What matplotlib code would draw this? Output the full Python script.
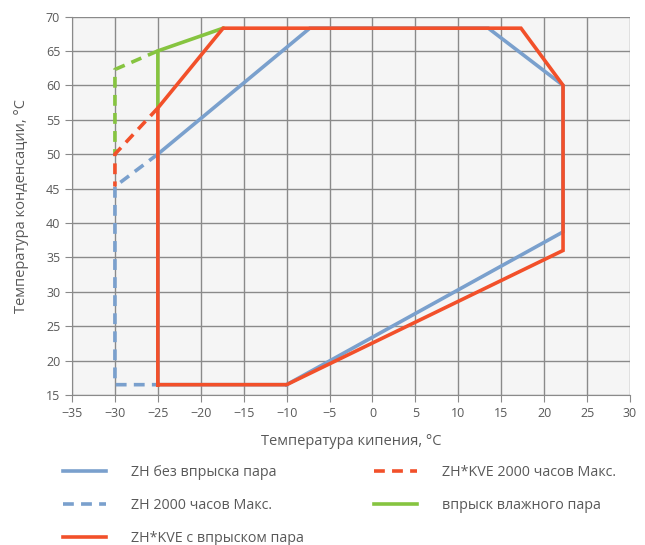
import matplotlib
matplotlib.use("Agg")
import matplotlib.pyplot as plt
from matplotlib.lines import Line2D

# контуры (температура кипения, температура конденсации)
zh_x = [-10, 22.2, 22.2, 13.5, -7.3, -25, -25, -10]
zh_y = [16.5, 38.7, 60, 68.3, 68.3, 50, 16.5, 16.5]
zh2000_x = [-25, -30, -30, -25]
zh2000_y = [50, 45.3, 16.5, 16.5]
kve_x = [-25, -10, 22.2, 22.2, 17.3, -17.4, -25, -25]
kve_y = [16.5, 16.5, 36, 60, 68.3, 68.3, 56.7, 16.5]
kve2000_x = [-25, -30, -30]
kve2000_y = [56.7, 50, 45.3]
wet_x = [-25, -25, -17.4]
wet_y = [56.7, 65, 68.3]
wet2000_x = [-25, -30, -30]
wet2000_y = [65, 62.3, 50]

labels = ["ZH без впрыска пара", "ZH 2000 часов Макс.", "ZH*KVE с впрыском пара",
          "ZH*KVE 2000 часов Макс.", "впрыск влажного пара"]

plt.rcParams['font.family'] = ['Open Sans', 'DejaVu Sans']
blue = '#7aa0cd'
red = '#f2502a'
green = '#86c440'
txt = '#595959'
lw = 2.6
dash = (3, 2)

fig = plt.figure(figsize=(6.45, 5.45), dpi=100)
ax = fig.add_axes([72/645, 1-395/545, 558/645, 378.5/545])
ax.set_facecolor('#f5f5f5')

ax.plot(zh_x, zh_y, color=blue, lw=lw, solid_joinstyle='miter')
ax.plot(zh2000_x, zh2000_y, color=blue, lw=lw, dashes=dash)
ax.plot(wet_x, wet_y, color=green, lw=lw)
ax.plot(wet2000_x, wet2000_y, color=green, lw=lw, dashes=dash)
ax.plot(kve_x, kve_y, color=red, lw=lw, solid_joinstyle='miter')
ax.plot(kve2000_x, kve2000_y, color=red, lw=lw, dashes=dash)

ax.set_xlim(-35, 30)
ax.set_ylim(15, 70)
ax.set_xticks(range(-35, 31, 5))
ax.set_yticks(range(15, 71, 5))
ax.grid(True, color='#8a8a8a', lw=1)
ax.set_axisbelow(True)
for s in ['top', 'right']:
    ax.spines[s].set_visible(False)
for s in ['left', 'bottom']:
    ax.spines[s].set_color('#8a8a8a')
ax.tick_params(colors='#8a8a8a', labelcolor=txt, labelsize=9, length=5)
ax.set_xlabel("Температура кипения, °C", color=txt, fontsize=10.5, labelpad=10)
ax.set_ylabel("Температура конденсации, °C", color=txt, fontsize=10.5, labelpad=12)

handles = [Line2D([], [], color=blue, lw=lw),
           Line2D([], [], color=blue, lw=lw, dashes=dash),
           Line2D([], [], color=red, lw=lw),
           Line2D([], [], color=red, lw=lw, dashes=dash),
           Line2D([], [], color=green, lw=lw)]
leg = fig.legend(handles, labels, ncol=2, loc='upper left', bbox_to_anchor=(50/645, 1-452/545),
                 frameon=False, fontsize=10.3, handlelength=3.0, handletextpad=1.75,
                 columnspacing=4.9, labelspacing=1.25, labelcolor=txt)

fig.savefig("out.png", dpi=100)
